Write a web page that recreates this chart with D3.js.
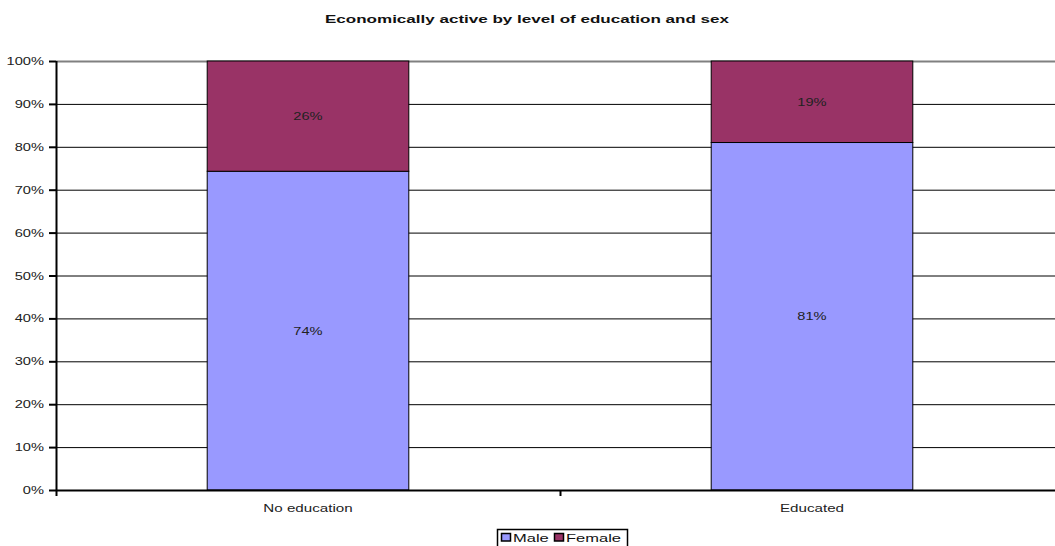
<!DOCTYPE html>
<html><head><meta charset="utf-8">
<script src="https://cdn.jsdelivr.net/npm/d3@7"></script>
<style>body{margin:0;background:#fff;}svg{display:block;font-family:"Liberation Sans",Arial,sans-serif;}</style>
</head><body>
<svg id="c" width="1055" height="546"></svg>
<script>
const categories = ["No education", "Educated"];
const male = [74.3, 81];
const female = [25.7, 19];
const maleLabels = ["74%", "81%"];
const femaleLabels = ["26%", "19%"];
const yTicks = [0,10,20,30,40,50,60,70,80,90,100];

(function(){
const svg = d3.select("#c");
const pL = 56, pR = 1064, pT = 61, pB = 490;
const SX = 1.33; // horizontal stretch of text
const x = d3.scaleBand().domain(categories).range([pL, pR]).paddingInner(0).paddingOuter(0);
const y = d3.scaleLinear().domain([0,100]).range([pB, pT]);

function txt(sel, xf, yf, sx){
  return sel.attr("transform", (d,i)=>`translate(${xf(d,i)},${yf(d,i)}) scale(${sx},1)`);
}

txt(svg.append("text").datum(0), ()=>527, ()=>23, 1.55).attr("text-anchor","middle")
  .attr("font-size", 11).attr("font-weight","bold").attr("fill","#111").text("Economically active by level of education and sex");

svg.append("g").selectAll("line").data(yTicks.filter(d=>d>0)).join("line")
  .attr("x1", pL).attr("x2", pR).attr("y1", d=>y(d)+0.5).attr("y2", d=>y(d)+0.5)
  .attr("stroke", d=> d===100 ? "#808080" : "#000").attr("stroke-width", d=> d===100 ? 2 : 1);

const bw = x.bandwidth()*0.4;
const off = (x.bandwidth()-bw)/2;
const g = svg.append("g");
g.selectAll("rect.m").data(categories).join("rect").attr("class","m")
  .attr("x", d=>x(d)+off).attr("width", bw)
  .attr("y", (d,i)=>y(male[i])).attr("height", (d,i)=>y(0)-y(male[i]))
  .attr("fill","#9999FF").attr("stroke","#000").attr("stroke-width",1);
g.selectAll("rect.f").data(categories).join("rect").attr("class","f")
  .attr("x", d=>x(d)+off).attr("width", bw)
  .attr("y", (d,i)=>y(male[i]+female[i])).attr("height", (d,i)=>y(male[i])-y(male[i]+female[i]))
  .attr("fill","#993366").attr("stroke","#000").attr("stroke-width",1);

txt(g.selectAll("text.m").data(categories).join("text").attr("class","m"),
  d=>x(d)+x.bandwidth()/2, (d,i)=>y(male[i]/2)+4, SX)
  .attr("text-anchor","middle").attr("font-size",11).attr("fill","#222").text((d,i)=>maleLabels[i]);
txt(g.selectAll("text.f").data(categories).join("text").attr("class","f"),
  d=>x(d)+x.bandwidth()/2, (d,i)=>y(male[i]+female[i]/2)+4, SX)
  .attr("text-anchor","middle").attr("font-size",11).attr("fill","#222").text((d,i)=>femaleLabels[i]);

const ya = svg.append("g");
ya.append("line").attr("x1", pL+0.5).attr("x2", pL+0.5).attr("y1", pT).attr("y2", pB+1).attr("stroke","#000").attr("stroke-width",2);
ya.selectAll("line.t").data(yTicks).join("line").attr("class","t")
  .attr("x1", pL-7).attr("x2", pL).attr("y1", d=>y(d)+0.5).attr("y2", d=>y(d)+0.5).attr("stroke","#000").attr("stroke-width",2);
txt(ya.selectAll("text").data(yTicks).join("text"), ()=>44, d=>y(d)+4, SX)
  .attr("text-anchor","end").attr("font-size",11).attr("fill","#222").text(d=>d+"%");

const xa = svg.append("g");
xa.append("line").attr("x1", pL).attr("x2", pR).attr("y1", pB+0.5).attr("y2", pB+0.5).attr("stroke","#000").attr("stroke-width",2);
const bounds = [pL, ...categories.map(c=>x(c)+x.bandwidth())];
xa.selectAll("line.t").data(bounds).join("line").attr("class","t")
  .attr("x1", d=>d+0.5).attr("x2", d=>d+0.5).attr("y1", pB).attr("y2", pB+6).attr("stroke","#000").attr("stroke-width",2);
txt(xa.selectAll("text").data(categories).join("text"), d=>x(d)+x.bandwidth()/2, ()=>512, 1.38)
  .attr("text-anchor","middle").attr("font-size",11).attr("fill","#222").text(d=>d);

const lg = svg.append("g");
lg.append("rect").attr("x", 497.5).attr("y", 529.5).attr("width", 130).attr("height", 18).attr("fill","#fff").attr("stroke","#000").attr("stroke-width",1.5);
const items = [["Male","#9999FF",501],["Female","#993366",554]];
items.forEach(([t,c,xx])=>{
  lg.append("rect").attr("x", xx+0.5).attr("y", 533.5).attr("width", 9).attr("height", 7.5).attr("fill", c).attr("stroke","#000").attr("stroke-width",1.5);
  txt(lg.append("text").datum(0), ()=>xx+12, ()=>541.5, 1.5).attr("font-size", 11).attr("fill","#111").text(t);
});
})();
</script>
</body></html>
